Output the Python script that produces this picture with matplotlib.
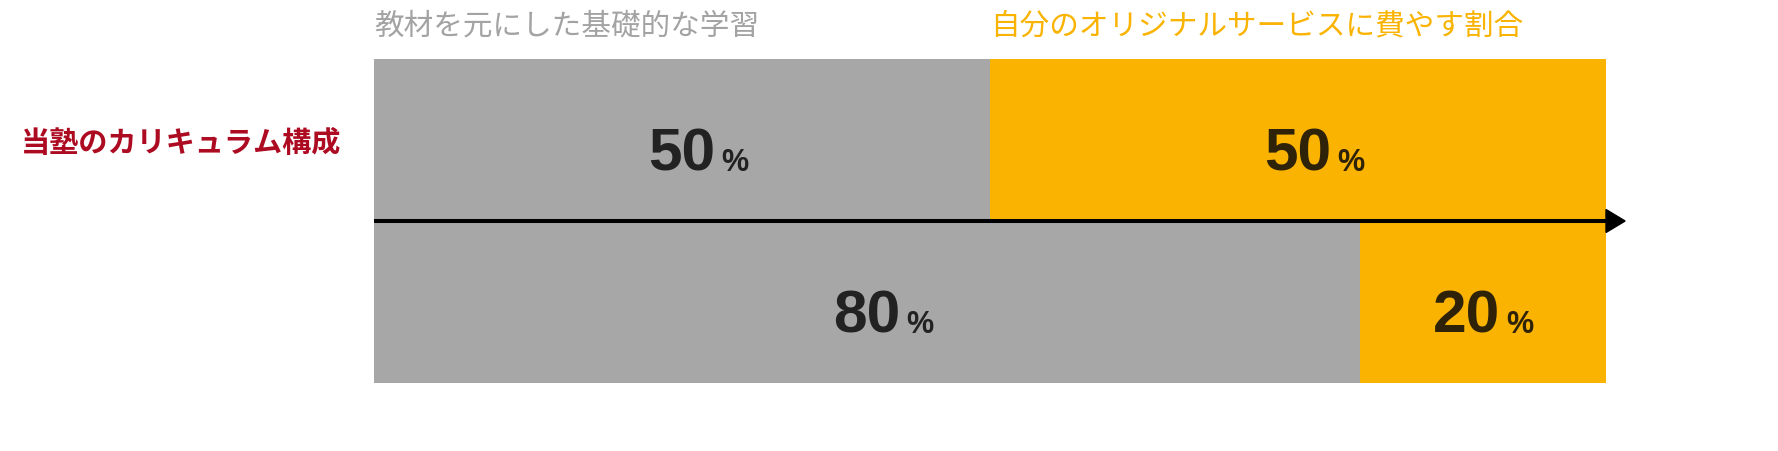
import matplotlib
matplotlib.use('Agg')
import matplotlib.pyplot as plt
from matplotlib.patches import Polygon

# data
rows = ['当塾', '一般']           # top row, bottom row
study_share = [50, 80]          # 教材を元にした基礎的な学習
original_share = [50, 20]       # 自分のオリジナルサービスに費やす割合
label_study = '教材を元にした基礎的な学習'
label_original = '自分のオリジナルサービスに費やす割合'
row_title = '当塾のカリキュラム構成'

GRAY = '#a7a7a7'
ORANGE = '#f9b300'
JP = ['Noto Sans CJK JP', 'DejaVu Sans']

W, H = 1778, 452
fig = plt.figure(figsize=(W / 100, H / 100), dpi=100)
# axes in pixel box 374..1606 x 60..384
ax = fig.add_axes([374 / W, 1 - 384 / H, 1232 / W, 324 / H])
ax.set_xlim(0, 100)
ax.set_ylim(-0.5, 1.5)
ax.axis('off')

ypos = [1, 0]
ax.barh(ypos, study_share, height=1.0, color=GRAY, linewidth=0)
ax.barh(ypos, original_share, left=study_share, height=1.0, color=ORANGE, linewidth=0)

# value labels
def put_value(x, y, v, color):
    ax.text(x, y, str(v), ha='center', va='baseline', fontsize=43.5,
            fontweight='bold', family='Liberation Sans', color=color)
    ax.annotate('%', xy=(x, y), xytext=(39, 0), textcoords='offset pixels',
                ha='left', va='baseline', fontsize=22, fontweight='bold',
                family='Liberation Sans', color=color)

for y, a, b in zip(ypos, study_share, original_share):
    base = y - 0.185
    put_value(a / 2, base, a, '#222222')
    mid = a + b / 2
    if b < 30:
        mid -= 1.3
    put_value(mid, base, b, '#2e2209')

# axis arrow between the rows
ax.plot([0, 100], [0.5, 0.5], color='black', lw=2.9, solid_capstyle='butt', clip_on=False)
head = Polygon([[100, 0.5 + 0.071], [101.55, 0.5], [100, 0.5 - 0.071]],
               closed=True, color='black', clip_on=False)
ax.add_patch(head)

# series titles above the bars
ax.text(0, 1.71, label_study, ha='left', va='center', fontsize=21.3,
        family=JP, color='#a3a3a3')
ax.text(study_share[0], 1.71, label_original, ha='left', va='center', fontsize=21.3,
        family=JP, color=ORANGE)

# row title on the left
fig.text(21 / W, 1 - 143 / H, row_title, ha='left', va='center', fontsize=21,
         fontweight='bold', family=JP, color='#ad0b21')

fig.savefig('out.png', dpi=100)
